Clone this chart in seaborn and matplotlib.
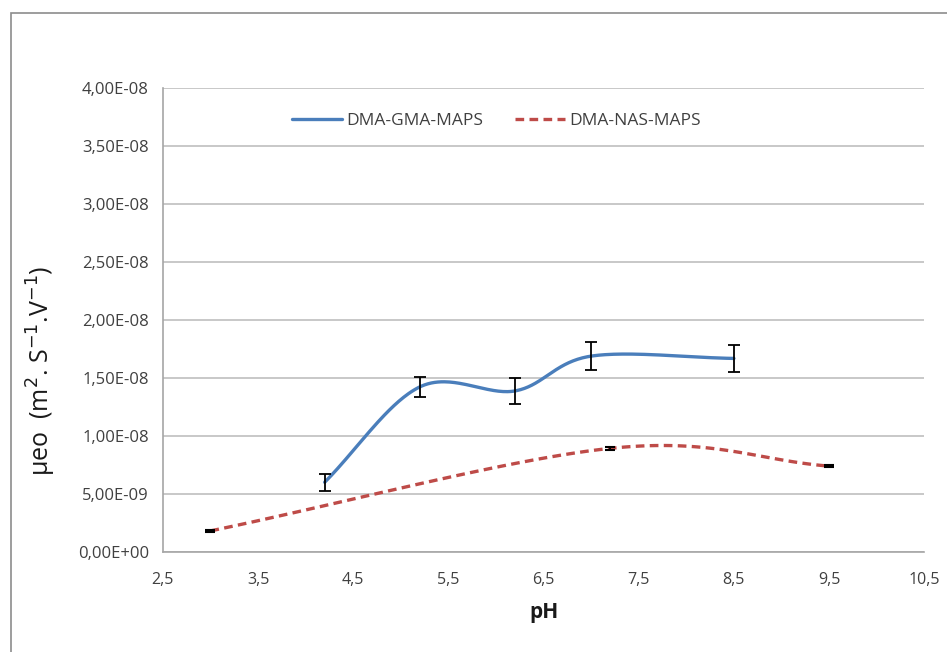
import numpy as np
import pandas as pd
import matplotlib
matplotlib.use("Agg")
import matplotlib.pyplot as plt
import seaborn as sns
from matplotlib.ticker import FuncFormatter
from matplotlib.lines import Line2D

# Data
ph_gma = [4.2, 5.2, 6.2, 7.0, 8.5]
mu_gma = [0.603e-8, 1.425e-8, 1.39e-8, 1.69e-8, 1.67e-8]
err_gma = [0.075e-8, 0.085e-8, 0.115e-8, 0.12e-8, 0.12e-8]

ph_nas = [3.0, 7.2, 9.5]
mu_nas = [0.184e-8, 0.895e-8, 0.742e-8]
err_nas = [0.008e-8, 0.01e-8, 0.01e-8]

labels = ["DMA-GMA-MAPS", "DMA-NAS-MAPS"]
xticks = [2.5, 3.5, 4.5, 5.5, 6.5, 7.5, 8.5, 9.5, 10.5]
yticks = [0, 0.5e-8, 1.0e-8, 1.5e-8, 2.0e-8, 2.5e-8, 3.0e-8, 3.5e-8, 4.0e-8]

BLUE = "#4a7ebb"
RED = "#be4b48"


def smooth(xs, ys, n=60):
    """Catmull-Rom style smoothing (like Excel 'smoothed line')."""
    P = np.column_stack([xs, ys]).astype(float)
    scale = np.array([max(xs) - min(xs), max(ys) - min(ys)])
    Q = P / scale
    pts = np.vstack([Q[0] - (Q[1] - Q[0]), Q, Q[-1] + (Q[-1] - Q[-2])])
    out = []
    for i in range(1, len(pts) - 2):
        p0, p1, p2, p3 = pts[i - 1], pts[i], pts[i + 1], pts[i + 2]
        t = np.linspace(0, 1, n)[:, None]
        m1 = (p2 - p0) / 2
        m2 = (p3 - p1) / 2
        h00 = 2 * t**3 - 3 * t**2 + 1
        h10 = t**3 - 2 * t**2 + t
        h01 = -2 * t**3 + 3 * t**2
        h11 = t**3 - t**2
        seg = h00 * p1 + h10 * m1 + h01 * p2 + h11 * m2
        out.append(seg if i == 1 else seg[1:])
    R = np.vstack(out) * scale
    return R[:, 0], R[:, 1]


sx1, sy1 = smooth(ph_gma, mu_gma)
sx2, sy2 = smooth(ph_nas, mu_nas)
df1 = pd.DataFrame({"pH": sx1, "mu": sy1})
df2 = pd.DataFrame({"pH": sx2, "mu": sy2})

sns.set_style("white")
plt.rcParams["font.family"] = ["Open Sans", "DejaVu Sans"]

fig = plt.figure(figsize=(9.47, 6.52), dpi=100)
ax = fig.add_axes([0.172, 0.153, 0.804, 0.712])

# Outer chart border
fig.patches.append(plt.Rectangle((0.012, -0.01), 1.0, 0.99, transform=fig.transFigure,
                                 fill=False, edgecolor="#8c8c8c", linewidth=1.2, zorder=0))

sns.lineplot(data=df1, x="pH", y="mu", sort=False, estimator=None,
             color=BLUE, linewidth=2.4, ax=ax)
sns.lineplot(data=df2, x="pH", y="mu", sort=False, estimator=None,
             color=RED, linewidth=2.4, dashes=False, ax=ax)
ax.lines[-1].set_linestyle((0, (2.6, 1.6)))

ax.errorbar(ph_gma, mu_gma, yerr=err_gma, fmt="none", ecolor="black",
            elinewidth=1.3, capsize=4, capthick=1.3, zorder=5)
ax.errorbar(ph_nas, mu_nas, yerr=err_nas, fmt="none", ecolor="black",
            elinewidth=1.3, capsize=3.5, capthick=1.5, zorder=5)

ax.set_xlim(2.5, 10.5)
ax.set_ylim(0, 4.0e-8)
ax.set_xticks(xticks)
ax.set_yticks(yticks)
ax.yaxis.set_major_formatter(FuncFormatter(
    lambda v, p: "0,00E+00" if v == 0 else ("%.2E" % v).replace(".", ",")))
ax.xaxis.set_major_formatter(FuncFormatter(lambda v, p: ("%.1f" % v).replace(".", ",")))

ax.grid(axis="y", color="#bfbfbf", linewidth=1.2)
ax.set_axisbelow(True)
for s in ["top", "right"]:
    ax.spines[s].set_visible(False)
for s in ["left", "bottom"]:
    ax.spines[s].set_color("#a6a6a6")
    ax.spines[s].set_linewidth(1.2)

ax.tick_params(axis="both", direction="out", length=6, width=1.0, color="#a6a6a6",
               labelcolor="#404040")
ax.tick_params(axis="y", labelsize=12, pad=4)
ax.tick_params(axis="x", labelsize=11.5, pad=8)

ax.set_xlabel("pH", fontsize=15, fontweight="bold", color="#1a1a1a", labelpad=10)
ax.set_ylabel("μeo  (m$^2$. S$^{-1}$.V$^{-1}$)", fontsize=18, color="#1a1a1a")
ax.yaxis.set_label_coords(-0.138, 0.39)

handles = [Line2D([], [], color=BLUE, lw=2.4),
           Line2D([], [], color=RED, lw=2.4, ls=(0, (2.6, 1.6)))]
ax.legend(handles, labels, loc="upper center", bbox_to_anchor=(0.438, 0.98), ncol=2,
          frameon=False, fontsize=12.5, handlelength=2.9, columnspacing=1.8,
          handletextpad=0.25, labelcolor="#404040")

fig.savefig("out.png", dpi=100)
